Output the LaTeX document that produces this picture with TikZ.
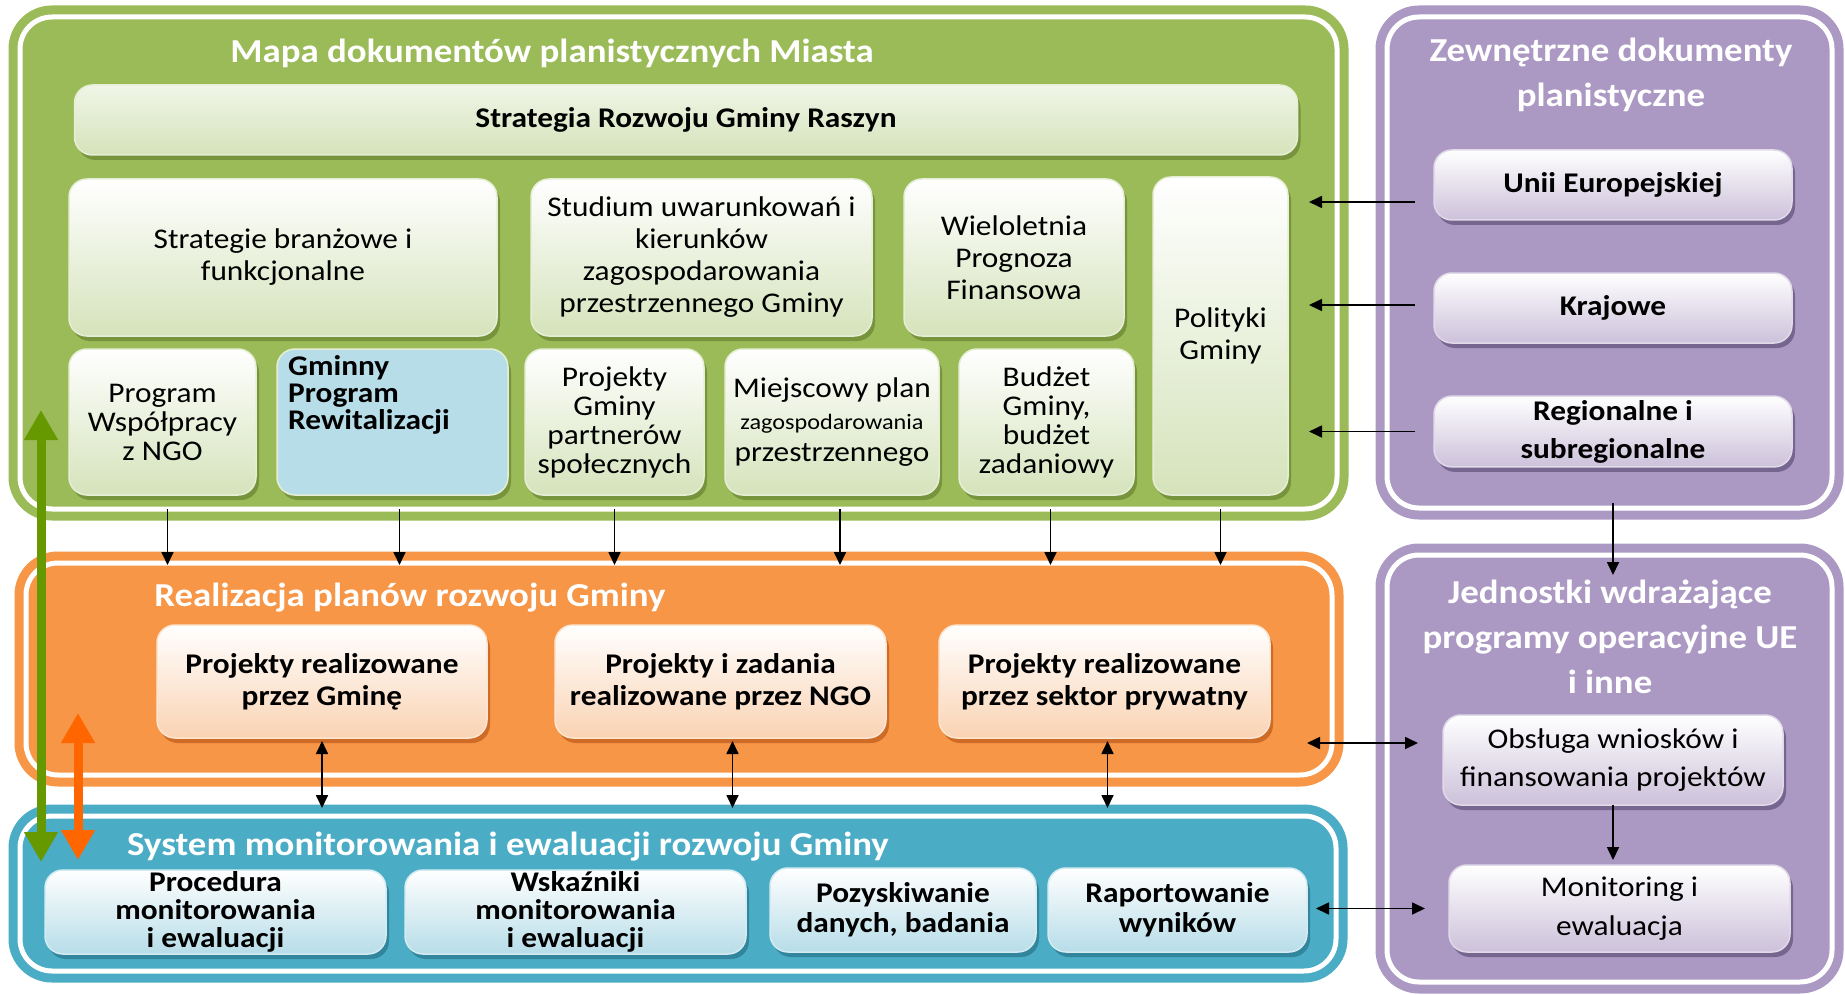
\documentclass[tikz,border=0pt]{standalone}
\usepackage{fontspec}
\setmainfont{Carlito}[FakeStretch=1.1]
\usetikzlibrary{arrows.meta,shadows}

\definecolor{grn}{HTML}{9BBB59}
\definecolor{grnlt}{HTML}{D5E3BB}
\definecolor{grndk}{HTML}{77933C}
\definecolor{org}{HTML}{F79646}
\definecolor{orglt}{HTML}{FAD3B3}
\definecolor{orgdk}{HTML}{CD6B27}
\definecolor{blu}{HTML}{4BACC6}
\definecolor{blult}{HTML}{B7DDE8}
\definecolor{bludk}{HTML}{31859C}
\definecolor{pur}{HTML}{AB99C4}
\definecolor{purlt}{HTML}{CCC1DA}
\definecolor{purdk}{HTML}{76668F}
\definecolor{arrgrn}{HTML}{669900}
\definecolor{arrorg}{HTML}{FF6600}

\begin{document}
\begin{tikzpicture}[x=1pt,y=-1pt,
  area/.style={fill=#1,draw=#1,double=white,double distance=5pt,line width=9pt,rounded corners=32pt,outer sep=0pt},
  areatitle/.style={text=white,font=\fontsize{33.5}{45}\selectfont\bfseries,align=center},
  docbox/.style={rounded corners=18pt,align=center,outer sep=0pt,inner sep=4pt,
    font=\fontsize{28.5}{32}\selectfont,top color=white,bottom color=#1lt,
    draw=#1lt!60!white,line width=1.5pt,
    drop shadow={shadow xshift=3pt,shadow yshift=-5pt,fill=#1dk,opacity=1}},
  bold/.style={font=\fontsize{28.5}{32}\selectfont\bfseries},
  arr/.style={draw=black,line width=1.7pt,-{Triangle[width=12pt,length=13pt]}},
  arrboth/.style={draw=black,line width=1.7pt,{Triangle[width=12pt,length=13pt]}-{Triangle[width=12pt,length=13pt]}},
  bigarr/.style={draw=#1,line width=9pt,{Triangle[width=32pt,length=30pt]}-{Triangle[width=32pt,length=30pt]}}]

\path[use as bounding box,fill=white] (0,0) rectangle (1845,995);

% large areas
\node[area=grn,minimum width=1317pt,minimum height=492pt] (mapa) at (678.5,263) {};
\node[area=org,minimum width=1306pt,minimum height=212pt] (real) at (679,669) {};
\node[area=blu,minimum width=1316pt,minimum height=155pt] (sys) at (678,893.5) {};
\node[area=pur,minimum width=445pt,minimum height=491pt] (zew) at (1609.5,262.5) {};
\node[area=pur,minimum width=445pt,minimum height=427pt] (jwd) at (1609.5,768.5) {};

\node[areatitle] (mapat) at (552,53) {Mapa dokumentów planistycznych Miasta};
\node[areatitle] (realt) at (410,598) {Realizacja planów rozwoju Gminy};
\node[areatitle] (syst) at (508,847) {System monitorowania i ewaluacji rozwoju Gminy};
\node[areatitle] (zewt) at (1611,75) {Zewnętrzne dokumenty\\planistyczne};
\node[areatitle] (jwdt) at (1610,637) {Jednostki wdrażające\\programy operacyjne UE\\i inne};

% documents of the Gmina
\node[docbox=grn,bold,top color=grnlt!35!white,minimum width=1223pt,minimum height=70pt] (srgr) at (686,120) {Strategia Rozwoju Gminy Raszyn};
\node[docbox=grn,minimum width=428pt,minimum height=157pt] (sbf) at (283,257.5) {Strategie branżowe i\\funkcjonalne};
\node[docbox=grn,minimum width=341pt,minimum height=157pt] (suk) at (701.5,257.5) {Studium uwarunkowań i\\kierunków\\zagospodarowania\\przestrzennego Gminy};
\node[docbox=grn,minimum width=220pt,minimum height=157pt] (wpf) at (1014,257.5) {Wieloletnia\\Prognoza\\Finansowa};
\node[docbox=grn,minimum width=135pt,minimum height=318pt] (pol) at (1220.5,336) {Polityki\\Gminy};
\node[docbox=grn,font=\fontsize{28.5}{29}\selectfont,minimum width=187pt,minimum height=146pt] (pwn) at (162.5,422) {Program\\Współpracy\\z NGO};
\node[docbox=grn,top color=blult,bottom color=blult,minimum width=231pt,minimum height=146pt,
  label={[anchor=north west,xshift=11pt,yshift=-6pt,align=left,inner sep=0pt,font=\fontsize{28.5}{27}\selectfont\bfseries]north west:Gminny\\Program\\Rewitalizacji}] (gpr) at (392.5,422) {};
\node[docbox=grn,font=\fontsize{28.5}{29}\selectfont,minimum width=179pt,minimum height=146pt] (pgp) at (614.5,422) {Projekty\\Gminy\\partnerów\\społecznych};
\node[docbox=grn,minimum width=214pt,minimum height=146pt] (mpz) at (832,422) {Miejscowy plan\\{\fontsize{22}{32}\selectfont zagospodarowania}\\przestrzennego};
\node[docbox=grn,font=\fontsize{28.5}{29}\selectfont,minimum width=175pt,minimum height=146pt] (bud) at (1046.5,422) {Budżet\\Gminy,\\budżet\\zadaniowy};

% realisation
\node[docbox=org,bold,minimum width=330pt,minimum height=113pt] (pgm) at (322,681.5) {Projekty realizowane\\przez Gminę};
\node[docbox=org,bold,minimum width=331pt,minimum height=113pt] (pngo) at (720.5,681.5) {Projekty i zadania\\realizowane przez NGO};
\node[docbox=org,bold,minimum width=331pt,minimum height=113pt] (pps) at (1104.5,681.5) {Projekty realizowane\\przez sektor prywatny};

% monitoring
\node[docbox=blu,font=\fontsize{28.5}{28}\selectfont\bfseries,inner sep=0pt,minimum width=341pt,minimum height=84pt] (pme) at (215.5,912) {Procedura\\monitorowania\\i ewaluacji};
\node[docbox=blu,font=\fontsize{28.5}{28}\selectfont\bfseries,inner sep=0pt,minimum width=341pt,minimum height=84pt] (wme) at (575.5,912) {Wskaźniki\\monitorowania\\i ewaluacji};
\node[docbox=blu,font=\fontsize{28.5}{30}\selectfont\bfseries,minimum width=266pt,minimum height=84pt] (pdb) at (903,910) {Pozyskiwanie\\danych, badania};
\node[docbox=blu,font=\fontsize{28.5}{30}\selectfont\bfseries,minimum width=259pt,minimum height=84pt] (rwy) at (1177.5,910) {Raportowanie\\wyników};

% external
\node[docbox=pur,bold,minimum width=358pt,minimum height=70pt] (uue) at (1613,185) {Unii Europejskiej};
\node[docbox=pur,bold,minimum width=358pt,minimum height=70pt] (kra) at (1613,308) {Krajowe};
\node[docbox=pur,font=\fontsize{28.5}{38}\selectfont\bfseries,minimum width=358pt,minimum height=70pt] (rsr) at (1613,431.5) {Regionalne i\\subregionalne};
\node[docbox=pur,font=\fontsize{28.5}{38}\selectfont,minimum width=340pt,minimum height=90pt] (obs) at (1613,760) {Obsługa wniosków i\\finansowania projektów};
\node[docbox=pur,font=\fontsize{28.5}{39}\selectfont,minimum width=341pt,minimum height=87pt] (mon) at (1619.5,908.5) {Monitoring i\\ewaluacja};

% connectors
\foreach \n/\dx in {pwn/5,gpr/7,pgp/0,mpz/8,bud/4,pol/0}
  \draw[arr,shorten <=14pt,shorten >=-2pt] ([xshift=\dx pt]\n.south) -- ([xshift=\dx pt]\n.south |- real.north);
\foreach \n/\dx in {pgm/0,pngo/12,pps/3}
  \draw[arrboth,shorten <=3pt,shorten >=8pt] ([xshift=\dx pt]\n.south) -- ([xshift=\dx pt]\n.south |- sys.north);
\foreach \n/\dy in {uue/-17,kra/3,rsr/0}
  \draw[arr,shorten <=19pt,shorten >=21pt] ([yshift=\dy pt]\n.west) -- ([yshift=\dy pt]\n.west -| pol.east);
\draw[arr,shorten <=-5pt,shorten >=-20pt] (rsr.south |- zew.south) -- (rsr.south |- jwd.north);
\draw[arr,shorten >=5pt] (obs.south) -- (obs.south |- mon.north);
\draw[arrboth,shorten <=25pt,shorten >=-25pt] ([yshift=17pt]obs.west) -- ([yshift=17pt]obs.west -| real.east);
\draw[arrboth,shorten <=24pt,shorten >=9pt] (mon.west) -- (mon.west -| rwy.east);

% thick arrows
\coordinate (o1) at (78,713);
\coordinate (o2) at (78,860);
\draw[bigarr=arrorg] (o1) -- (o2);
\coordinate (g1) at (41,410);
\coordinate (g2) at (41,862);
\draw[bigarr=arrgrn] (g1) -- (g2);
\end{tikzpicture}
\end{document}
